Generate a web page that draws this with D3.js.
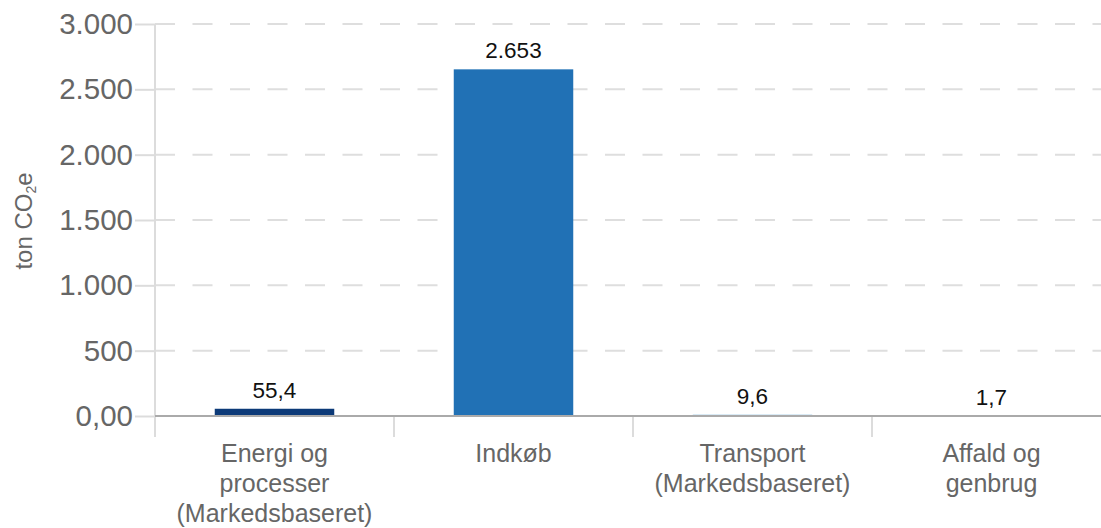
<!DOCTYPE html>
<html>
<head>
<meta charset="utf-8">
<script src="https://cdn.jsdelivr.net/npm/d3@7"></script>
<style>
  body { margin: 0; background: #fff; }
  text { font-family: "Liberation Sans", Arial, Helvetica, sans-serif; }
</style>
</head>
<body>
<div id="chart"></div>
<script>
const categories = ["Energi og|processer|(Markedsbaseret)", "Indkøb", "Transport|(Markedsbaseret)", "Affald og|genbrug"];
const values = [55.4, 2653, 9.6, 1.7];
const barColors = ["#0c3a78", "#2171b5", "#6baed6", "#9ecae1"];
const yTicks = [0, 500, 1000, 1500, 2000, 2500, 3000];

const width = 1101, height = 528;
const locale = d3.formatLocale({ decimal: ",", thousands: ".", grouping: [3], currency: ["", " kr."] });
const fmtInt = locale.format(",.0f");
const fmtDec = locale.format(".1f");

const svg = d3.select("#chart")
    .append("svg")
    .attr("width", width)
    .attr("height", height);

const x = d3.scaleBand()
    .domain(categories)
    .range([155, 1111])
    .paddingInner(0.5)
    .paddingOuter(0.25);

const y = d3.scaleLinear()
    .domain([0, 3000])
    .range([416, 24]);

// dashed grid
svg.append("g")
    .selectAll("line")
    .data(yTicks.filter(d => d > 0))
    .enter()
    .append("line")
    .attr("x1", 155)
    .attr("x2", width)
    .attr("y1", d => y(d))
    .attr("y2", d => y(d))
    .attr("stroke", "#dedede")
    .attr("stroke-width", 2)
    .attr("stroke-dasharray", "20,17.5");

// y axis
const yAxis = svg.append("g")
    .attr("transform", "translate(155,0)")
    .call(d3.axisLeft(y).tickValues(yTicks).tickSize(20).tickPadding(2)
        .tickFormat(d => d === 0 ? "0,00" : fmtInt(d)));
yAxis.select(".domain").remove();
yAxis.selectAll(".tick line").attr("stroke", "#dcdcdc").attr("stroke-width", 2);
yAxis.selectAll(".tick text")
    .attr("fill", "#666")
    .attr("font-size", "29.5px")
    .attr("font-family", "'Liberation Sans', Arial, sans-serif");

// vertical axis line
svg.append("line")
    .attr("x1", 155).attr("x2", 155)
    .attr("y1", y(3000)).attr("y2", 437)
    .attr("stroke", "#dcdcdc")
    .attr("stroke-width", 2);

// category separators
const step = x.step();
svg.append("g")
    .selectAll("line")
    .data(categories.slice(1))
    .enter()
    .append("line")
    .attr("x1", d => x(d) - step * 0.25)
    .attr("x2", d => x(d) - step * 0.25)
    .attr("y1", 416)
    .attr("y2", 437)
    .attr("stroke", "#dcdcdc")
    .attr("stroke-width", 2);

// bars
svg.append("g")
    .selectAll("rect")
    .data(values)
    .enter()
    .append("rect")
    .attr("x", (d, i) => x(categories[i]))
    .attr("y", d => y(d))
    .attr("width", x.bandwidth())
    .attr("height", d => y(0) - y(d))
    .attr("fill", (d, i) => barColors[i]);

// baseline
svg.append("line")
    .attr("x1", 155).attr("x2", width)
    .attr("y1", y(0)).attr("y2", y(0))
    .attr("stroke", "#aaa")
    .attr("stroke-width", 2);

// value labels
svg.append("g")
    .selectAll("text")
    .data(values)
    .enter()
    .append("text")
    .attr("x", (d, i) => x(categories[i]) + x.bandwidth() / 2)
    .attr("y", d => y(d) - 11)
    .attr("text-anchor", "middle")
    .attr("fill", "#111")
    .attr("font-size", "22.5px")
    .text(d => d >= 100 ? fmtInt(d) : fmtDec(d));

// category labels
const catText = svg.append("g")
    .selectAll("text")
    .data(categories)
    .enter()
    .append("text")
    .attr("x", d => x(d) + x.bandwidth() / 2)
    .attr("y", 462)
    .attr("text-anchor", "middle")
    .attr("fill", "#666")
    .attr("font-size", "25px");

catText.each(function (d) {
    const t = d3.select(this);
    d.split("|").forEach((line, i) => {
        t.append("tspan")
            .attr("x", x(d) + x.bandwidth() / 2)
            .attr("dy", i === 0 ? 0 : 30)
            .text(line);
    });
});

// y title
const yTitle = svg.append("text")
    .attr("transform", "translate(32,221) rotate(-90)")
    .attr("text-anchor", "middle")
    .attr("fill", "#666")
    .attr("font-size", "24px");
yTitle.append("tspan").text("ton CO");
yTitle.append("tspan").attr("font-size", "14px").attr("dy", 4).text("2");
yTitle.append("tspan").attr("dy", -4).text("e");
</script>
</body>
</html>
